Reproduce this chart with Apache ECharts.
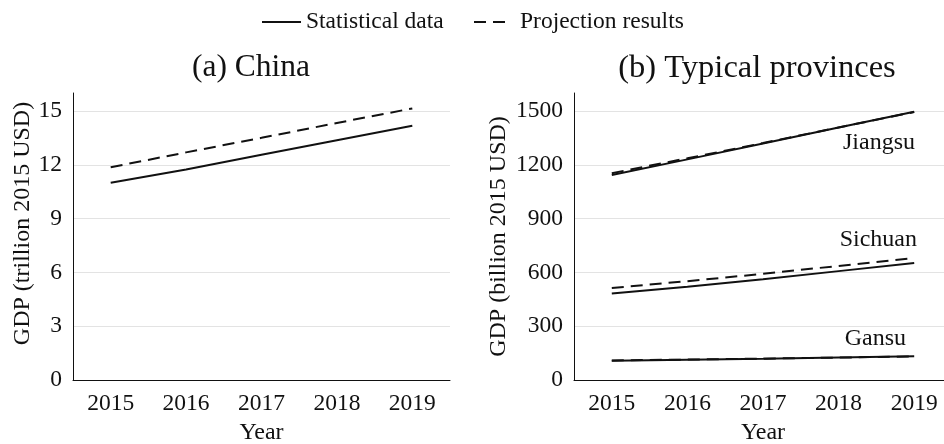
<!DOCTYPE html>
<html>
<head>
<meta charset="utf-8">
<script src="https://cdn.jsdelivr.net/npm/echarts@6/dist/echarts.min.js"></script>
<style>
html,body{margin:0;padding:0;background:#fff;}
#main{width:944px;height:444px;}
</style>
</head>
<body>
<div id="main"></div>
<script>
var years = ['2015', '2016', '2017', '2018', '2019'];
//China, trillion 2015 USD
var chinaStat = [11.0, 11.74, 12.56, 13.37, 14.17];
var chinaProj = [11.86, 12.69, 13.5, 14.33, 15.14];
//provinces, billion 2015 USD
var jiangsuStat = [1143, 1230, 1318, 1408, 1496];
var jiangsuProj = [1153, 1236, 1321, 1408, 1494];
var sichuanStat = [482, 520, 562, 607, 652];
var sichuanProj = [513, 551, 592, 636, 680];
var gansuStat = [107, 113, 119, 126, 133];
var gansuProj = [109, 114, 119, 125, 131];
var leftTicks = [0, 16, 3];
var rightTicks = [0, 1600, 300];

var font = 'Liberation Serif';
var myChart = echarts.init(document.getElementById('main'));

function xAxisOf(idx){
	return {
		type: 'category',
		gridIndex: idx,
		data: years,
		boundaryGap: true,
		name: 'Year',
		nameLocation: 'middle',
		nameGap: 41,
		nameTextStyle: {color: '#111', fontFamily: font, fontSize: 24},
		axisLine: {lineStyle: {color: '#111', width: 1}},
		axisTick: {alignWithLabel: true, length: 5, lineStyle: {color: '#111'}},
		axisLabel: {color: '#111', fontFamily: font, fontSize: 23.5, margin: 12},
		splitLine: {show: false}
	};
}
function yAxisOf(idx, ticks, name, gap, namePad){
	return {
		type: 'value',
		gridIndex: idx,
		min: ticks[0],
		max: ticks[1],
		interval: ticks[2],
		name: name,
		nameLocation: 'middle',
		nameGap: gap,
		nameTextStyle: {color: '#111', fontFamily: font, fontSize: 24, padding: namePad},
		axisLine: {show: true, lineStyle: {color: '#111', width: 1}},
		axisTick: {show: false},
		axisLabel: {color: '#111', fontFamily: font, fontSize: 23.5, margin: 11, showMaxLabel: false,
			formatter: function(v){ return String(v); }},
		splitLine: {show: true, showMinLine: false, showMaxLine: false, lineStyle: {color: '#e3e3e3', width: 1}}
	};
}
function lineOf(name, idx, data, dashed){
	return {
		name: name,
		type: 'line',
		xAxisIndex: idx,
		yAxisIndex: idx,
		data: data,
		symbol: 'none',
		lineStyle: {color: '#111', width: 2, type: dashed ? [12, 7] : 'solid'},
		itemStyle: {color: '#111'},
		z: dashed ? 3 : 2
	};
}

var option = {
	animation: false,
	textStyle: {fontFamily: font},
	title: [
		{text: '(a) China', left: 246, top: 47, textAlign: 'center',
			textStyle: {fontFamily: font, fontSize: 31.5, fontWeight: 'normal', color: '#111'}},
		{text: '(b) Typical provinces', left: 752, top: 47, textAlign: 'center',
			textStyle: {fontFamily: font, fontSize: 32.5, fontWeight: 'normal', color: '#111'}}
	],
	//两个图例分开放，图标宽度不同
	legend: [
		{
			left: 262, top: 10, padding: 0, itemWidth: 39, itemHeight: 2, itemGap: 0,
			icon: 'path://M0,0H39V2H0Z',
			itemStyle: {borderWidth: 0},
			textStyle: {fontFamily: font, fontSize: 23.5, color: '#111'},
			data: ['Statistical data']
		},
		{
			left: 474, top: 10, padding: 0, itemWidth: 31, itemHeight: 2, itemGap: 0,
			icon: 'path://M0,0H12V2H0Z M19,0H31V2H19Z',
			itemStyle: {borderWidth: 0},
			textStyle: {fontFamily: font, fontSize: 23.5, color: '#111', padding: [0, 0, 0, 10]},
			data: ['Projection results']
		}
	],
	grid: [
		{left: 73, top: 93, width: 377, height: 287, outerBoundsMode: 'none'},
		{left: 574, top: 93, width: 378, height: 287, outerBoundsMode: 'none'}
	],
	xAxis: [xAxisOf(0), xAxisOf(1)],
	yAxis: [
		yAxisOf(0, leftTicks, 'GDP (trillion 2015 USD)', 38, [0, 0, 0, 26]),
		yAxisOf(1, rightTicks, 'GDP (billion 2015 USD)', 63, 0)
	],
	series: [
		lineOf('Statistical data', 0, chinaStat, false),
		lineOf('Projection results', 0, chinaProj, true),
		lineOf('Statistical data', 1, jiangsuStat, false),
		lineOf('Projection results', 1, jiangsuProj, true),
		lineOf('Statistical data', 1, sichuanStat, false),
		lineOf('Projection results', 1, sichuanProj, true),
		lineOf('Statistical data', 1, gansuStat, false),
		lineOf('Projection results', 1, gansuProj, true)
	],
	graphic: [
		{type: 'text', right: 29, top: 131, style: {text: 'Jiangsu', font: '24px "Liberation Serif"', fill: '#111'}},
		{type: 'text', right: 27, top: 228, style: {text: 'Sichuan', font: '24px "Liberation Serif"', fill: '#111'}},
		{type: 'text', right: 38, top: 327, style: {text: 'Gansu', font: '24px "Liberation Serif"', fill: '#111'}}
	]
};
myChart.setOption(option);
</script>
</body>
</html>
